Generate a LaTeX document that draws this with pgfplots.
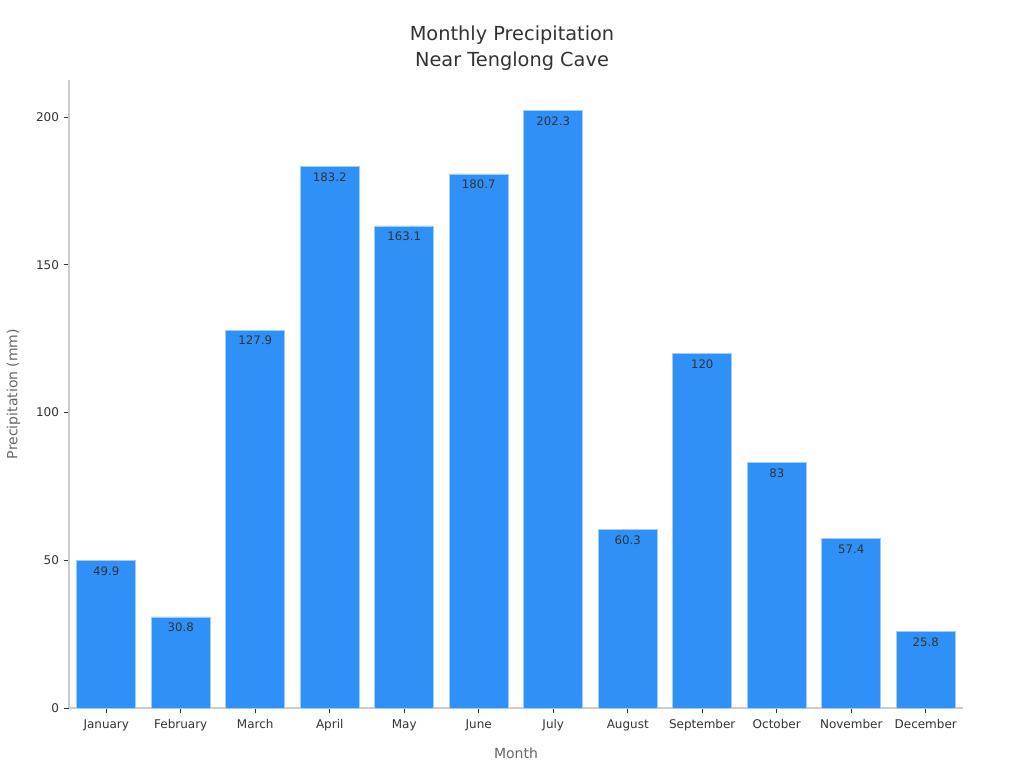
\documentclass[border=0pt]{standalone}
\usepackage{fontspec}
\setmainfont{DejaVu Sans}
\usepackage{pgfplots}
\pgfplotsset{compat=1.18}
\definecolor{barblue}{RGB}{47,145,247}
\definecolor{baredge}{RGB}{160,204,248}
\definecolor{axgray}{RGB}{204,204,204}
\definecolor{txt}{RGB}{51,51,51}
\definecolor{lbl}{RGB}{102,102,102}
\begin{document}
\begin{tikzpicture}
\useasboundingbox (-51.75pt,-45pt) rectangle (716.25pt,531pt);
\begin{axis}[
  scale only axis,
  width=670.5pt, height=471pt,
  ybar, bar width=0.79,
  xmin=-0.5, xmax=11.5,
  ymin=0, ymax=212.5,
  xtick=data,
  xticklabels={January,February,March,April,May,June,July,August,September,October,November,December},
  ytick={0,50,100,150,200},
  axis x line*=bottom, axis y line*=left,
  axis line style={axgray, line width=0.8pt},
  tick style={txt, line width=0.6pt},
  major tick length=4pt,
  tick align=outside,
  xtick pos=bottom, ytick pos=left,
  ticklabel style={font=\fontsize{9pt}{10pt}\selectfont, text=txt},
  xticklabel style={yshift=-1pt},
  /pgf/number format/assume math mode=true,
  xlabel={Month}, ylabel={Precipitation (mm)},
  label style={font=\fontsize{10.5pt}{12pt}\selectfont, text=lbl},
  xlabel style={yshift=-6pt},
  ylabel style={yshift=5pt},
  title={Monthly Precipitation\\Near Tenglong Cave},
  title style={align=center, font=\fontsize{14.5pt}{19.5pt}\selectfont, text=txt, yshift=-2.5pt, xshift=-3pt},
  point meta=explicit symbolic,
  nodes near coords,
  every node near coord/.append style={anchor=north, yshift=-1pt, font=\fontsize{8.8pt}{10pt}\selectfont, text=txt},
]
\addplot[fill=barblue, draw=baredge, line width=0.6pt] coordinates {
  (0,49.9) [49.9]
  (1,30.8) [30.8]
  (2,127.9) [127.9]
  (3,183.2) [183.2]
  (4,163.1) [163.1]
  (5,180.7) [180.7]
  (6,202.3) [202.3]
  (7,60.3) [60.3]
  (8,120) [120]
  (9,83) [83]
  (10,57.4) [57.4]
  (11,25.8) [25.8]
};
\end{axis}
\end{tikzpicture}
\end{document}
